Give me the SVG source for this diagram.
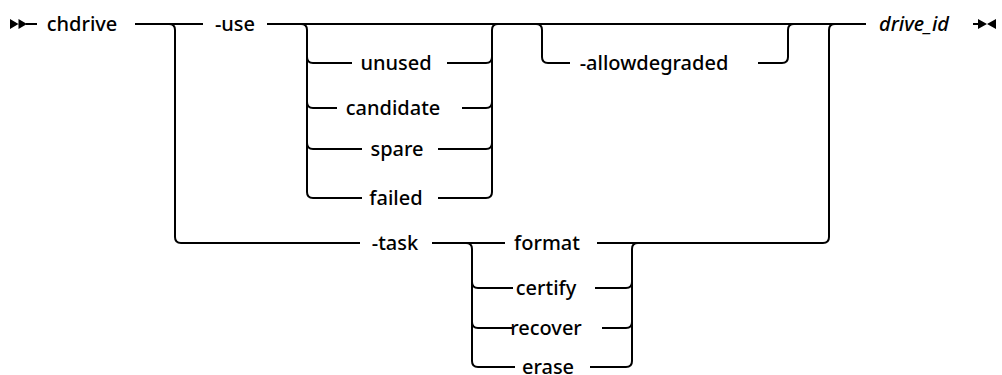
<svg xmlns="http://www.w3.org/2000/svg" width="1002" height="375" viewBox="0 0 1002 375">
<style>
.l{fill:none;stroke:#000;stroke-width:2}
.t{font-family:"Noto Sans","Open Sans",sans-serif;font-size:20px;font-weight:500;fill:#000;text-anchor:middle}
.i{font-style:italic}
.m{fill:#000;stroke:none}
</style>
<rect width="1002" height="375" fill="#fff"/>
<g id="connectors">
<path class="m" d="M10,19 L18.5,24 L10,29 Z M18.5,19 L27,24 L18.5,29 Z"/>
<path class="l" d="M26,24 H37"/>
<path class="l" d="M135,24 H203"/>
<path class="l" d="M169,24 Q175,24 175,30 V237 Q175,243 181,243 H360"/>
<path class="l" d="M267,24 H866"/>
<path class="l" d="M301,24 Q307,24 307,30 V192 Q307,198 313,198 H362"/>
<path class="l" d="M307,57 Q307,63 313,63 H352"/>
<path class="l" d="M307,102 Q307,108 313,108 H337"/>
<path class="l" d="M307,143 Q307,149 313,149 H362"/>
<path class="l" d="M492,30 Q492,24 498,24"/>
<path class="l" d="M447,63 H486 Q492,63 492,57 V30"/>
<path class="l" d="M462,108 H486 Q492,108 492,102"/>
<path class="l" d="M438,149 H486 Q492,149 492,143"/>
<path class="l" d="M438,198 H486 Q492,198 492,192 V57"/>
<path class="l" d="M536,24 Q542,24 542,30 V57 Q542,63 548,63 H570"/>
<path class="l" d="M758,63 H782 Q788,63 788,57 V30 Q788,24 794,24"/>
<path class="l" d="M432,243 H505"/>
<path class="l" d="M597,243 H823 Q829,243 829,237 V30 Q829,24 835,24"/>
<path class="l" d="M466,243 Q472,243 472,249 V361 Q472,367 478,367 H515"/>
<path class="l" d="M472,282 Q472,288 478,288 H513"/>
<path class="l" d="M472,322 Q472,328 478,328 H512"/>
<path class="l" d="M632,249 Q632,243 638,243"/>
<path class="l" d="M595,288 H626 Q632,288 632,282"/>
<path class="l" d="M602,328 H626 Q632,328 632,322"/>
<path class="l" d="M590,367 H626 Q632,367 632,361 V249"/>
<path class="l" d="M973,24 H981"/>
<path class="m" d="M978,19 L987,24 L978,29 Z M996,19 L987,24 L996,29 Z"/>
</g>
<g id="chdrive"><text class="t" x="82" y="31">chdrive</text></g>
<g id="use"><text class="t" x="235" y="31">-use</text></g>
<g id="unused"><text class="t" x="396" y="70">unused</text></g>
<g id="candidate"><text class="t" x="393" y="115">candidate</text></g>
<g id="spare"><text class="t" x="397" y="156">spare</text></g>
<g id="failed"><text class="t" x="396" y="205">failed</text></g>
<g id="allowdegraded"><text class="t" x="654" y="70">-allowdegraded</text></g>
<g id="drive_id"><text class="t i" x="914" y="31">drive_id</text></g>
<g id="task"><text class="t" x="395" y="250">-task</text></g>
<g id="format"><text class="t" x="547" y="250">format</text></g>
<g id="certify"><text class="t" x="546" y="295">certify</text></g>
<g id="recover"><text class="t" x="546" y="335">recover</text></g>
<g id="erase"><text class="t" x="548" y="374">erase</text></g>
</svg>
